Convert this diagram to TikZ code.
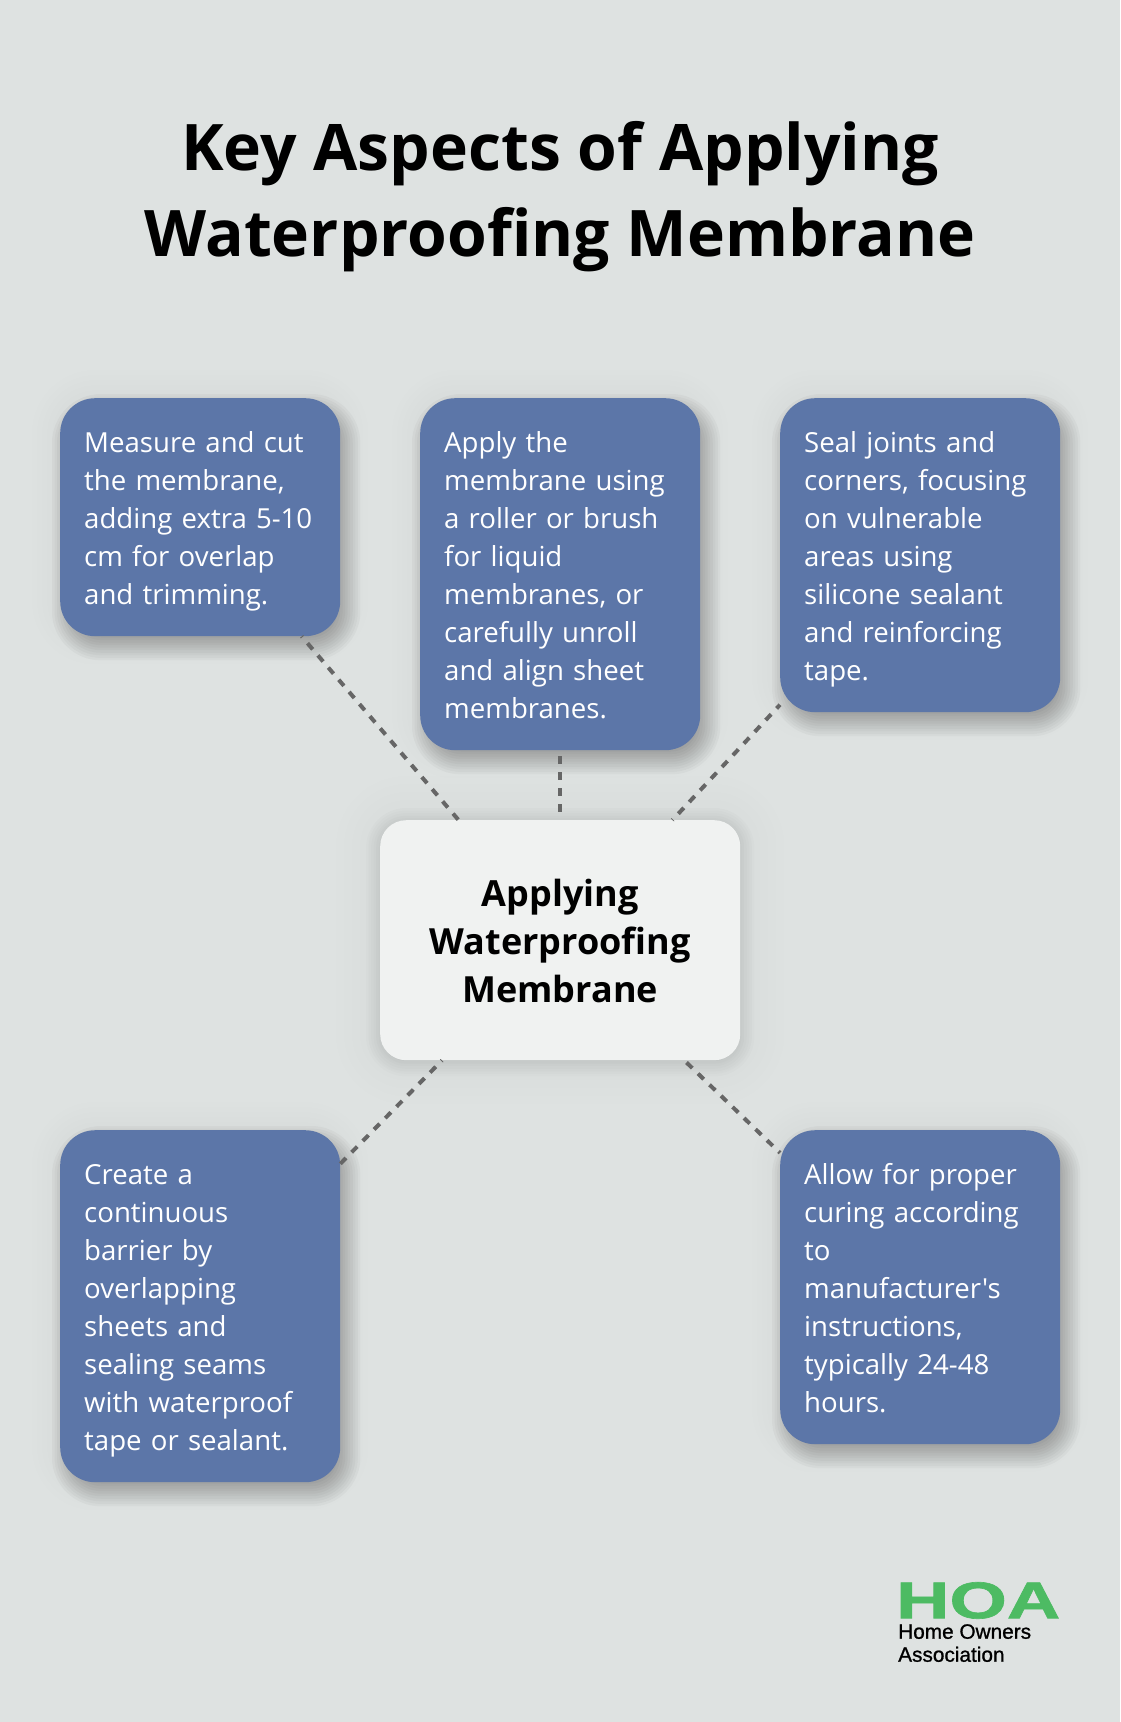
\documentclass[tikz,border=0pt]{standalone}
\usepackage{fontspec}
\setmainfont{Open Sans}
\newfontfamily\bodyfont{Open Sans}
\newfontfamily\logofont[FakeBold=1]{Liberation Sans}
\newfontfamily\hoafont[FakeBold=1.2]{Liberation Sans Bold}
\usetikzlibrary{backgrounds}
\definecolor{pagebg}{HTML}{DEE2E1}
\definecolor{boxblue}{HTML}{5C76A8}
\definecolor{centrefill}{HTML}{F0F2F1}
\definecolor{dashgrey}{HTML}{666666}
\definecolor{hoagreen}{HTML}{4DBB63}
\tikzset{
    stepbox/.style={draw=none, fill=boxblue, text=white, rounded corners=35pt, anchor=north west,
        minimum width=280pt, text width=232pt, inner xsep=24pt, inner ysep=0pt, align=left,
        font=\bodyfont\fontsize{27.6}{38}\selectfont,
        execute at begin node={\rule{0pt}{30.2pt}}, execute at end node={\rule[-7.8pt]{0pt}{7.8pt}}},
    centrebox/.style={draw=none, fill=centrefill, text=black, rounded corners=26pt, anchor=north west,
        minimum width=360pt, minimum height=240pt, inner sep=0pt, align=center,
        font=\fontsize{36}{48}\selectfont\bfseries,
        execute at end node={\rule[-3.4pt]{0pt}{3.4pt}}},
    spoke/.style={dashgrey, line width=4pt, dash pattern=on 8pt off 8pt},
}
% node, x offset, y offset, half spread, total opacity, corner radius
\newcommand{\softshadow}[6]{%
    \foreach \layer in {1,...,12} {
        \pgfmathsetmacro{\grow}{#4*(13-2*\layer)/11}
        \pgfmathsetmacro{\bend}{max(#6+\grow,2)}
        \pgfmathsetmacro{\layeralpha}{#5/12}
        \fill[black, opacity=\layeralpha, rounded corners=\bend pt]
            ([xshift={(#2-\grow)*1pt}, yshift={(-#3+\grow)*1pt}]#1.north west) rectangle
            ([xshift={(#2+\grow)*1pt}, yshift={(-#3-\grow)*1pt}]#1.south east);
    }
}
\begin{document}
\begin{tikzpicture}[x=1pt, y=-1pt]
    \useasboundingbox (0,0) rectangle (1120,1722);
    % title
    \node[anchor=center, align=center, font=\fontsize{64.2}{86}\selectfont\bfseries] (title) at (560,196.5)
        {Key Aspects of Applying\\Waterproofing Membrane};
    % boxes
    \node[centrebox] (centre) at (380,820) {\rule{0pt}{31.8pt}Applying\\Waterproofing\\Membrane};
    \node[stepbox, minimum height=238pt] (measure) at (60,398)
        {Measure and cut\\the membrane,\\adding extra 5-10\\cm for overlap\\and trimming.};
    \node[stepbox, minimum height=352pt] (apply) at (420,398)
        {Apply the\\membrane using\\a roller or brush\\for liquid\\membranes, or\\carefully unroll\\and align sheet\\membranes.};
    \node[stepbox, minimum height=314pt] (seal) at (780,398)
        {Seal joints and\\corners, focusing\\on vulnerable\\areas using\\silicone sealant\\and reinforcing\\tape.};
    \node[stepbox, minimum height=352pt] (barrier) at (60,1130)
        {Create a\\continuous\\barrier by\\overlapping\\sheets and\\sealing seams\\with waterproof\\tape or sealant.};
    \node[stepbox, minimum height=314pt] (curing) at (780,1130)
        {Allow for proper\\curing according\\to\\manufacturer's\\instructions,\\typically 24-48\\hours.};
    % shadows
    \begin{pgfonlayer}{background}
    \fill[pagebg] (0,0) rectangle (1120,1722);
    \softshadow{centre}{0}{0}{44}{0.05}{26}
    \softshadow{centre}{0}{2}{14}{0.16}{26}
    \foreach \boxname in {measure,apply,seal,barrier,curing} {
        \softshadow{\boxname}{0}{0}{28}{0.05}{35}
        \softshadow{\boxname}{6}{10}{14}{0.32}{35}
    }
    \end{pgfonlayer}
    % spokes
    \draw[spoke, dash phase=7pt] (measure) -- (centre);
    \draw[spoke, dash phase=10.3pt] (apply) -- (centre);
    \draw[spoke, dash phase=3pt] (seal) -- (centre);
    \draw[spoke] (barrier) -- (centre);
    \draw[spoke, dash phase=6pt] (curing) -- (centre);
    % logo
    \node[anchor=north west, inner sep=0pt, text=hoagreen, font=\hoafont] (hoa) at (896,1582)
        {\resizebox{164pt}{36pt}{HOA}};
    \node[anchor=north west, inner sep=0pt, align=left, font=\logofont\fontsize{20.8}{23}\selectfont] (owners) at (898,1624)
        {Home Owners\\Association};
\end{tikzpicture}
\end{document}
